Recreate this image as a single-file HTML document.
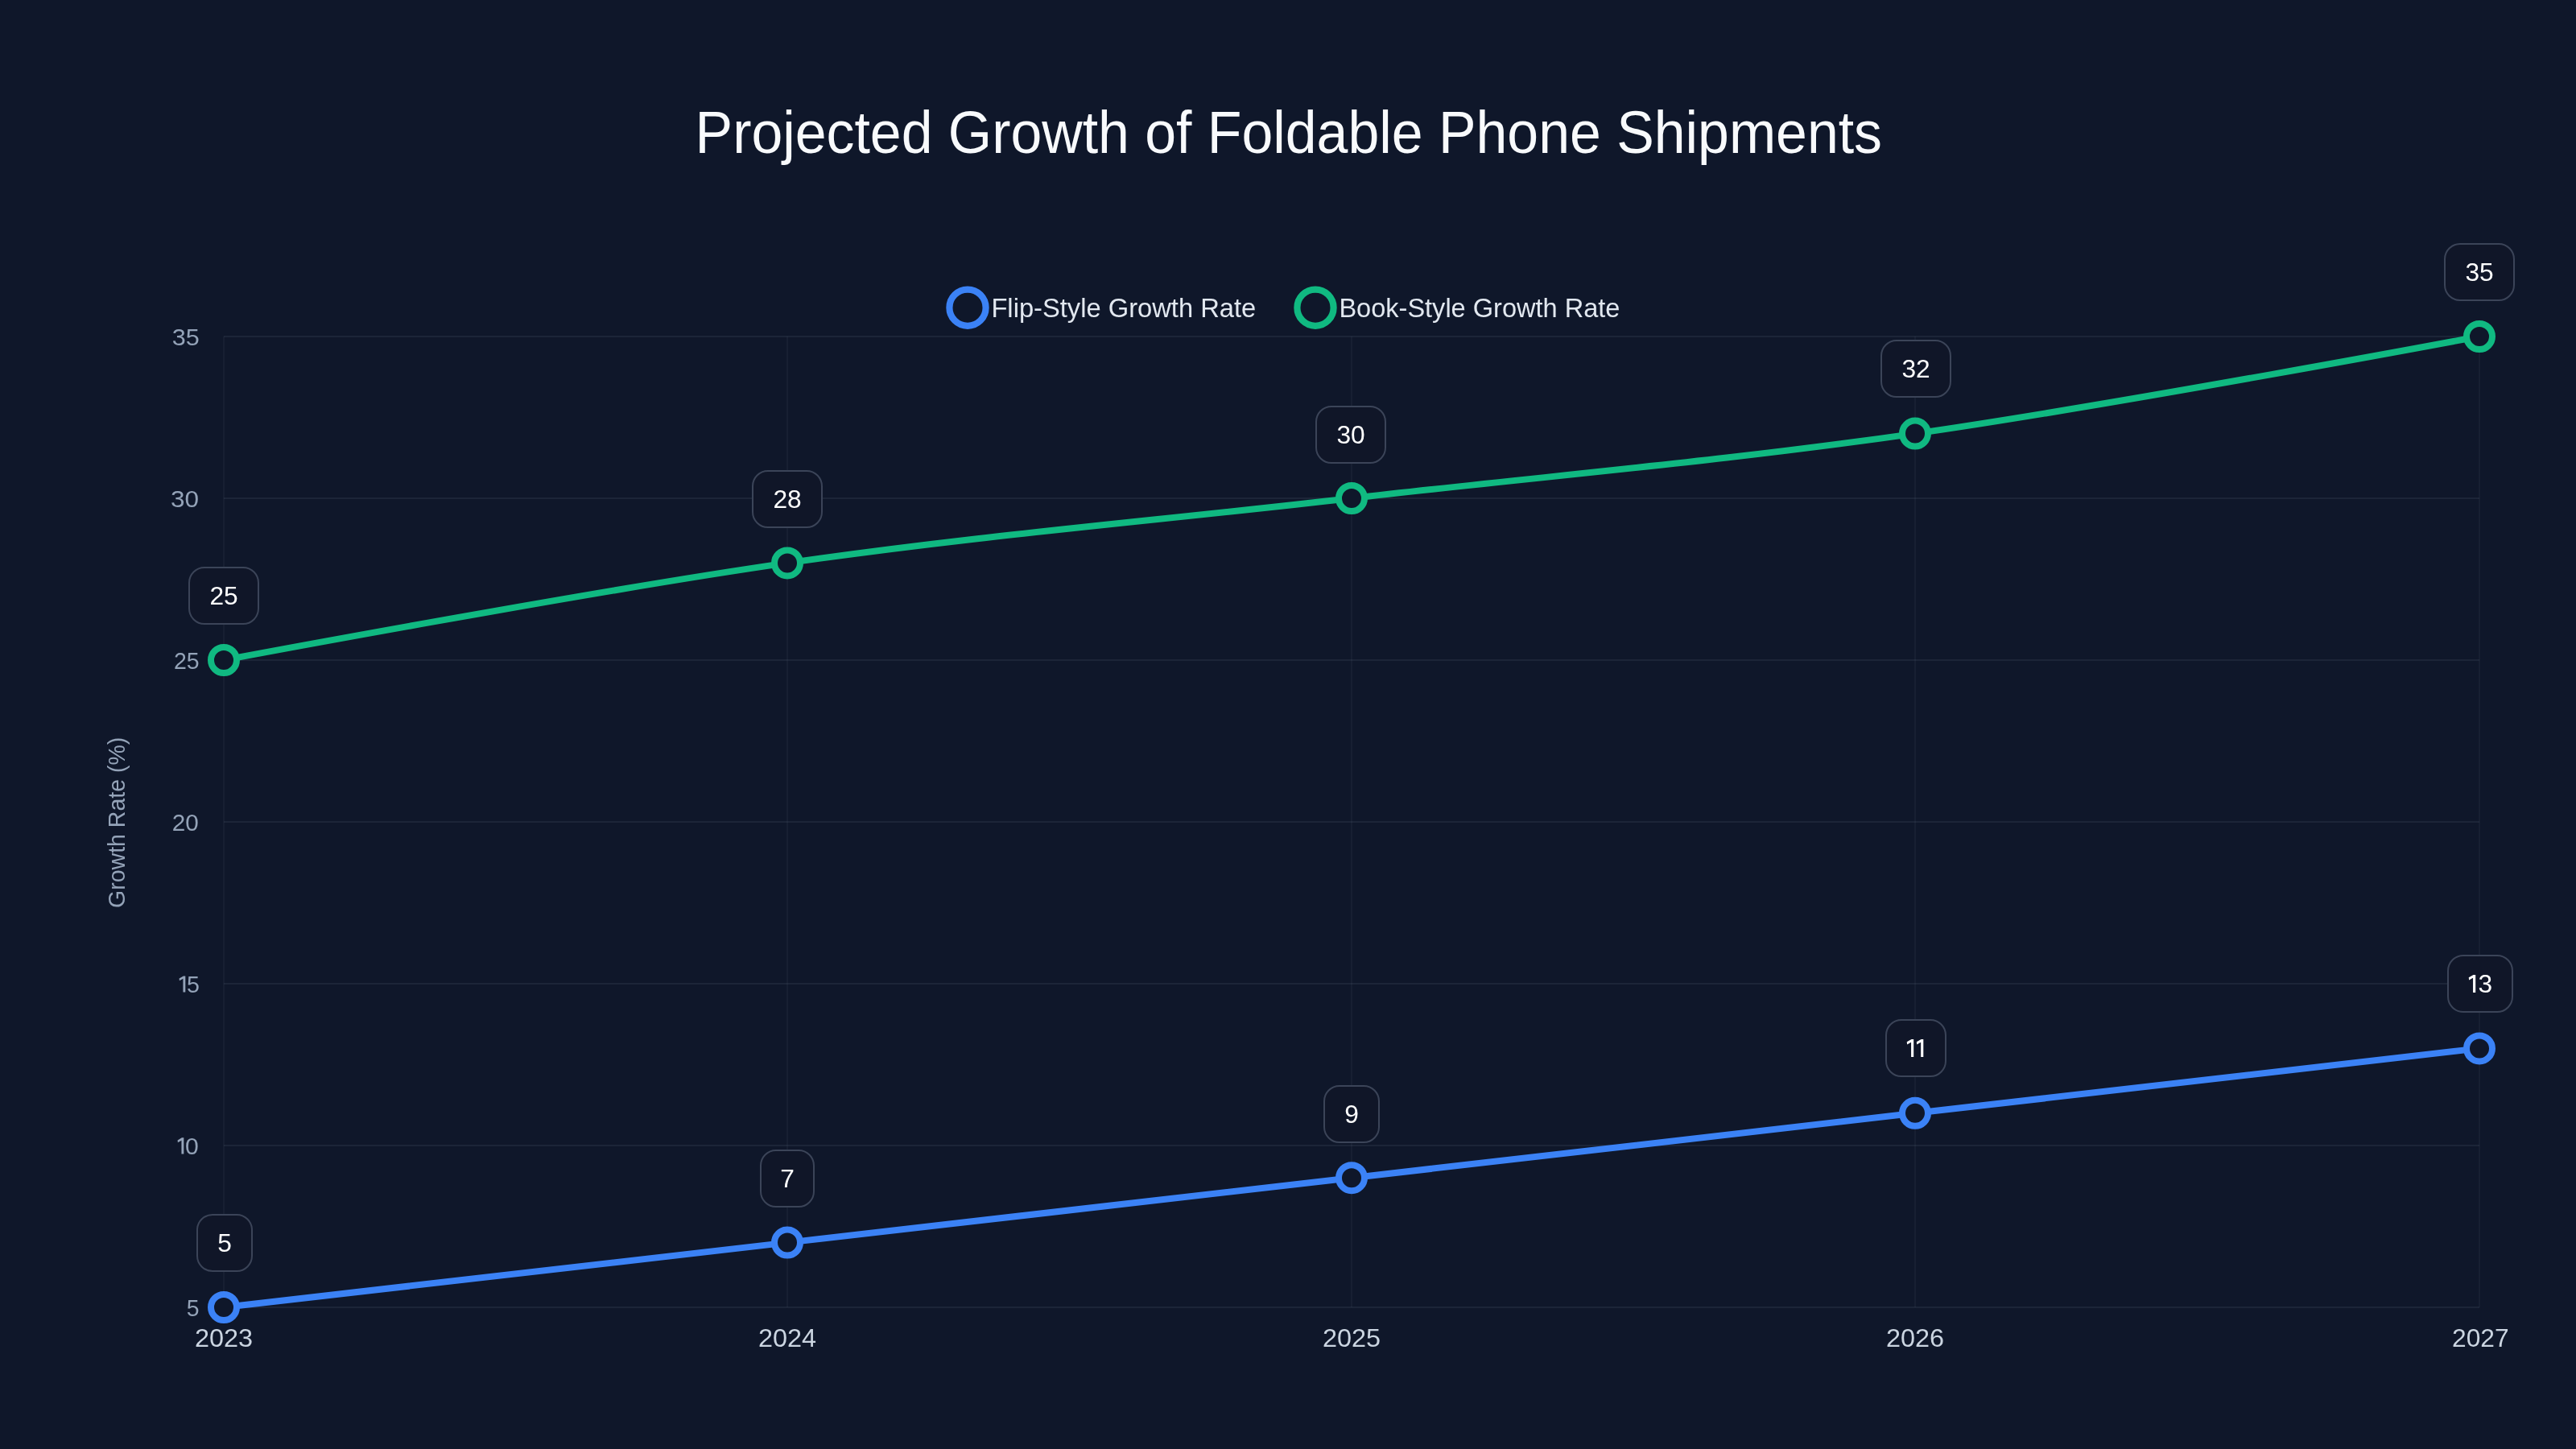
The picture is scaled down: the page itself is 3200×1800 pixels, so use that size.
<!DOCTYPE html><html><head><meta charset="utf-8"><style>html,body{margin:0;padding:0;background:#0f172a;width:100%;height:100%;overflow:hidden}svg{display:block;width:100vw;height:100vh;will-change:transform}text{font-family:"Liberation Sans",sans-serif}</style></head><body>
<svg viewBox="0 0 3200 1800" preserveAspectRatio="none">
<rect width="3200" height="1800" fill="#0f172a"/>
<text x="863.6" y="190" font-size="75" fill="#f8fafc" textLength="1474.4" lengthAdjust="spacingAndGlyphs">Projected Growth of Foldable Phone Shipments</text>
<line x1="278" y1="418.0" x2="3080" y2="418.0" stroke="rgba(148,163,184,0.1)" stroke-width="2"/>
<line x1="278" y1="619.0" x2="3080" y2="619.0" stroke="rgba(148,163,184,0.1)" stroke-width="2"/>
<line x1="278" y1="820.0" x2="3080" y2="820.0" stroke="rgba(148,163,184,0.1)" stroke-width="2"/>
<line x1="278" y1="1021.0" x2="3080" y2="1021.0" stroke="rgba(148,163,184,0.1)" stroke-width="2"/>
<line x1="278" y1="1222.0" x2="3080" y2="1222.0" stroke="rgba(148,163,184,0.1)" stroke-width="2"/>
<line x1="278" y1="1423.0" x2="3080" y2="1423.0" stroke="rgba(148,163,184,0.1)" stroke-width="2"/>
<line x1="278" y1="1624.0" x2="3080" y2="1624.0" stroke="rgba(148,163,184,0.1)" stroke-width="2"/>
<line x1="278.0" y1="418" x2="278.0" y2="1624" stroke="rgba(148,163,184,0.06)" stroke-width="2"/>
<line x1="978.0" y1="418" x2="978.0" y2="1624" stroke="rgba(148,163,184,0.06)" stroke-width="2"/>
<line x1="1679.0" y1="418" x2="1679.0" y2="1624" stroke="rgba(148,163,184,0.06)" stroke-width="2"/>
<line x1="2379.0" y1="418" x2="2379.0" y2="1624" stroke="rgba(148,163,184,0.06)" stroke-width="2"/>
<line x1="3080.0" y1="418" x2="3080.0" y2="1624" stroke="rgba(148,163,184,0.06)" stroke-width="2"/>
<text x="213.83" y="428.8" font-size="28.6" fill="#94a3b8" textLength="34.05" lengthAdjust="spacingAndGlyphs">35</text>
<text x="211.90" y="629.8" font-size="28.6" fill="#94a3b8" textLength="35.00" lengthAdjust="spacingAndGlyphs">30</text>
<text x="215.90" y="830.8" font-size="28.6" fill="#94a3b8" textLength="31.70" lengthAdjust="spacingAndGlyphs">25</text>
<text x="213.86" y="1031.8" font-size="28.6" fill="#94a3b8" textLength="32.98" lengthAdjust="spacingAndGlyphs">20</text>
<polygon points="230.30,1212.40 227.87,1212.40 222.58,1215.49 222.91,1218.36 227.43,1215.82 227.43,1232.60 230.30,1232.60" fill="#94a3b8"/>
<text x="231.90" y="1232.8" font-size="28.6" fill="#94a3b8" textLength="15.90" lengthAdjust="spacingAndGlyphs">5</text>
<polygon points="228.30,1413.30 225.87,1413.30 220.58,1416.39 220.91,1419.26 225.43,1416.72 225.43,1433.50 228.30,1433.50" fill="#94a3b8"/>
<text x="230.00" y="1433.8" font-size="28.6" fill="#94a3b8" textLength="16.76" lengthAdjust="spacingAndGlyphs">0</text>
<text x="231.80" y="1634.8" font-size="28.6" fill="#94a3b8" textLength="15.80" lengthAdjust="spacingAndGlyphs">5</text>
<text x="278.0" y="1673" font-size="31.5" fill="#cbd5e1" text-anchor="middle" textLength="72.1" lengthAdjust="spacingAndGlyphs">2023</text>
<text x="978.0" y="1673" font-size="31.5" fill="#cbd5e1" text-anchor="middle" textLength="72.1" lengthAdjust="spacingAndGlyphs">2024</text>
<text x="1679.0" y="1673" font-size="31.5" fill="#cbd5e1" text-anchor="middle" textLength="72.1" lengthAdjust="spacingAndGlyphs">2025</text>
<text x="2379.0" y="1673" font-size="31.5" fill="#cbd5e1" text-anchor="middle" textLength="72.1" lengthAdjust="spacingAndGlyphs">2026</text>
<text x="3081.3" y="1673" font-size="31.5" fill="#cbd5e1" text-anchor="middle" textLength="70.6" lengthAdjust="spacingAndGlyphs">2027</text>
<text transform="translate(155.2,1021.8) rotate(-90)" font-size="30" fill="#94a3b8" text-anchor="middle" textLength="212.3" lengthAdjust="spacingAndGlyphs">Growth Rate (%)</text>
<circle cx="1202" cy="382.2" r="22.6" fill="none" stroke="#3b82f6" stroke-width="8.2"/>
<circle cx="1634" cy="382.2" r="22.6" fill="none" stroke="#10b981" stroke-width="8.2"/>
<text x="1231.4" y="394" font-size="33" fill="#e2e8f0" textLength="328.9" lengthAdjust="spacingAndGlyphs">Flip-Style Growth Rate</text>
<text x="1663.4" y="394" font-size="33" fill="#e2e8f0" textLength="349" lengthAdjust="spacingAndGlyphs">Book-Style Growth Rate</text>
<path d="M 278.00 1624.00 L 978.00 1543.60 L 1679.00 1463.20 L 2379.00 1382.80 L 3080.00 1302.40" fill="none" stroke="#3b82f6" stroke-width="8" stroke-linejoin="round" stroke-linecap="round"/>
<path d="M 278.00 820.00 C 278.00 820.00 732.01 734.69 978.00 699.40 C 1222.36 664.34 1433.65 647.16 1679.00 619.00 C 1924.00 590.88 2134.98 573.61 2379.00 538.60 C 2625.33 503.26 3080.00 418.00 3080.00 418.00" fill="none" stroke="#10b981" stroke-width="8" stroke-linejoin="round" stroke-linecap="round"/>
<circle cx="278.0" cy="1624.0" r="16" fill="#0f172a" stroke="#3b82f6" stroke-width="8"/>
<circle cx="978.0" cy="1543.6" r="16" fill="#0f172a" stroke="#3b82f6" stroke-width="8"/>
<circle cx="1679.0" cy="1463.2" r="16" fill="#0f172a" stroke="#3b82f6" stroke-width="8"/>
<circle cx="2379.0" cy="1382.8" r="16" fill="#0f172a" stroke="#3b82f6" stroke-width="8"/>
<circle cx="3080.0" cy="1302.4" r="16" fill="#0f172a" stroke="#3b82f6" stroke-width="8"/>
<circle cx="278.0" cy="820.0" r="16" fill="#0f172a" stroke="#10b981" stroke-width="8"/>
<circle cx="978.0" cy="699.4" r="16" fill="#0f172a" stroke="#10b981" stroke-width="8"/>
<circle cx="1679.0" cy="619.0" r="16" fill="#0f172a" stroke="#10b981" stroke-width="8"/>
<circle cx="2379.0" cy="538.6" r="16" fill="#0f172a" stroke="#10b981" stroke-width="8"/>
<circle cx="3080.0" cy="418.0" r="16" fill="#0f172a" stroke="#10b981" stroke-width="8"/>
<rect x="245.0" y="1509.0" width="68.0" height="70" rx="19" ry="19" fill="#101628" stroke="#3b4458" stroke-width="2"/>
<text x="279.0" y="1555.0" font-size="31.7" fill="#ffffff" text-anchor="middle">5</text>
<rect x="945.0" y="1429.0" width="66.0" height="70" rx="19" ry="19" fill="#101628" stroke="#3b4458" stroke-width="2"/>
<text x="978.0" y="1475.0" font-size="31.7" fill="#ffffff" text-anchor="middle">7</text>
<rect x="1645.0" y="1349.0" width="68.0" height="70" rx="19" ry="19" fill="#101628" stroke="#3b4458" stroke-width="2"/>
<text x="1679.0" y="1395.0" font-size="31.7" fill="#ffffff" text-anchor="middle">9</text>
<rect x="2343.0" y="1267.0" width="74.0" height="70" rx="19" ry="19" fill="#101628" stroke="#3b4458" stroke-width="2"/>
<polygon points="2377.20,1290.90 2374.54,1290.90 2368.75,1294.28 2369.11,1297.42 2374.06,1294.64 2374.06,1313.00 2377.20,1313.00" fill="#ffffff"/>
<polygon points="2389.30,1290.90 2386.64,1290.90 2380.85,1294.28 2381.21,1297.42 2386.16,1294.64 2386.16,1313.00 2389.30,1313.00" fill="#ffffff"/>
<rect x="3041.0" y="1187.0" width="80.0" height="70" rx="19" ry="19" fill="#101628" stroke="#3b4458" stroke-width="2"/>
<polygon points="3075.20,1210.90 3072.54,1210.90 3066.75,1214.28 3067.11,1217.42 3072.06,1214.64 3072.06,1233.00 3075.20,1233.00" fill="#ffffff"/>
<text x="3087.3" y="1233.0" font-size="31.7" fill="#ffffff" text-anchor="middle">3</text>
<rect x="235.0" y="705.0" width="86.0" height="70" rx="19" ry="19" fill="#101628" stroke="#3b4458" stroke-width="2"/>
<text x="278.0" y="751.0" font-size="31.7" fill="#ffffff" text-anchor="middle">25</text>
<rect x="935.0" y="585.0" width="86.0" height="70" rx="19" ry="19" fill="#101628" stroke="#3b4458" stroke-width="2"/>
<text x="978.0" y="631.0" font-size="31.7" fill="#ffffff" text-anchor="middle">28</text>
<rect x="1635.0" y="505.0" width="86.0" height="70" rx="19" ry="19" fill="#101628" stroke="#3b4458" stroke-width="2"/>
<text x="1678.0" y="551.0" font-size="31.7" fill="#ffffff" text-anchor="middle">30</text>
<rect x="2337.0" y="423.0" width="86.0" height="70" rx="19" ry="19" fill="#101628" stroke="#3b4458" stroke-width="2"/>
<text x="2380.0" y="469.0" font-size="31.7" fill="#ffffff" text-anchor="middle">32</text>
<rect x="3037.0" y="303.0" width="86.0" height="70" rx="19" ry="19" fill="#101628" stroke="#3b4458" stroke-width="2"/>
<text x="3080.0" y="349.0" font-size="31.7" fill="#ffffff" text-anchor="middle">35</text>
</svg></body></html>
